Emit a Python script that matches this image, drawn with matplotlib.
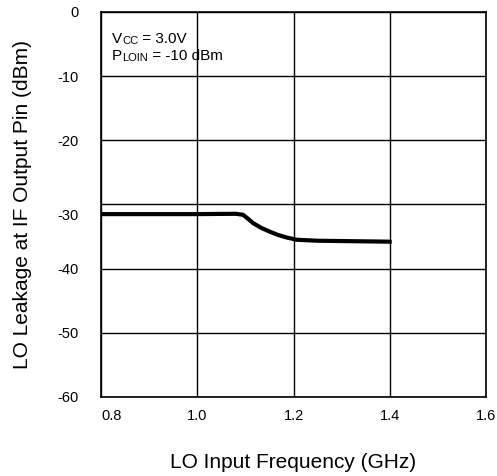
import matplotlib
matplotlib.use("Agg")
import matplotlib.pyplot as plt
from matplotlib.transforms import ScaledTranslation

plt.rcParams['font.family'] = ['Liberation Sans', 'DejaVu Sans']

# LO leakage curve
freq_ghz = [0.8, 1.0, 1.08, 1.095, 1.105, 1.116, 1.133, 1.151, 1.168, 1.186, 1.207, 1.25, 1.404]
leak_dbm = [-31.5, -31.5, -31.45, -31.6, -32.2, -32.9, -33.65, -34.25, -34.75, -35.15, -35.5, -35.65, -35.8]

x_ticks = [0.8, 1.0, 1.2, 1.4, 1.6]
x_tick_labels = ['0.8', '1.0', '1.2', '1.4', '1.6']
y_ticks = [0, -10, -20, -30, -40, -50, -60]
y_tick_labels = ['0', '-10', '-20', '-30', '-40', '-50', '-60']

fig = plt.figure(figsize=(4.97, 4.76), dpi=100)
ax = fig.add_axes([0.2032, 0.166, 0.7748, 0.8088])

ax.plot(freq_ghz, leak_dbm, color='black', lw=3.0, solid_capstyle='butt')

ax.set_xlim(0.8, 1.6)
ax.set_ylim(-60, 0)
ax.set_xticks(x_ticks)
ax.set_xticklabels(x_tick_labels)
ax.set_yticks(y_ticks)
ax.set_yticklabels(y_tick_labels)
ax.tick_params(axis='both', length=0, labelsize=10.5)
ax.tick_params(axis='x', pad=9)
ax.tick_params(axis='y', pad=16)
ax.grid(True, color='black', lw=1.0)
for sp in ax.spines.values():
    sp.set_linewidth(1.2)

# the original sheet has the first x label flush with the frame
# and the -30 label sitting a bit low
ax.get_xticklabels()[0].set_ha('left')
lab30 = ax.get_yticklabels()[3]
lab30.set_transform(lab30.get_transform() + ScaledTranslation(0, -10 / 100, fig.dpi_scale_trans))

ax.set_xlabel('LO Input Frequency (GHz)', fontsize=15, va='center')
ax.xaxis.set_label_coords(0.5, -0.171)
ax.set_ylabel('LO Leakage at IF Output Pin (dBm)', fontsize=15, va='center')
ax.yaxis.set_label_coords(-0.205, 0.5)

# condition note with small-caps subscripts
def note(parts, x, y):
    t = ax.text(x, y, parts[0][0], transform=ax.transAxes, fontsize=parts[0][1],
                va='bottom', ha='left')
    for s, fs in parts[1:]:
        t = ax.annotate(s, xy=(1, 0), xycoords=t, fontsize=fs, va='bottom', ha='left')
    return t

note([('V', 11), ('CC', 8), (' = 3.0V', 11)], 0.028, 0.912)
note([('P', 11), ('LOIN', 8), (' = -10 dBm', 11)], 0.028, 0.867)

fig.savefig('out.png', dpi=100)
